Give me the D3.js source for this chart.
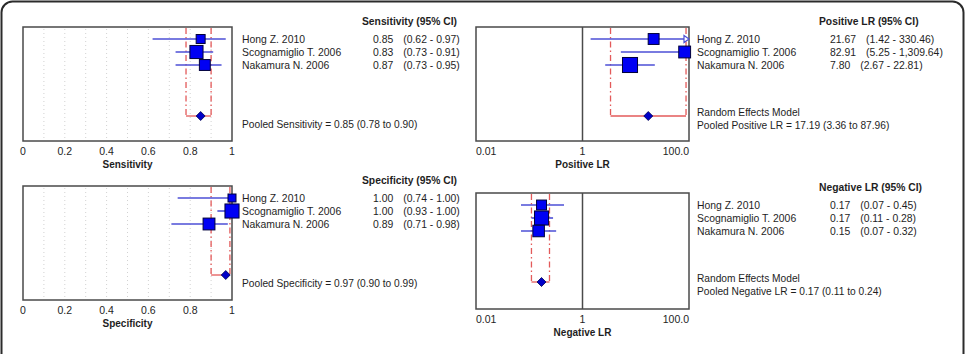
<!DOCTYPE html>
<html><head><meta charset="utf-8">
<script src="https://cdn.jsdelivr.net/npm/d3@7"></script>
<style>
html,body{margin:0;padding:0;background:#fff;}
svg{display:block;font-family:"Liberation Sans",Arial,sans-serif;}
</style></head>
<body><svg id="c" width="967" height="354"></svg>
<script>
// ---------- data ----------
const studies = ["Hong Z. 2010", "Scognamiglio T. 2006", "Nakamura N. 2006"];

const sensEst = [0.85, 0.83, 0.87];
const sensLo  = [0.62, 0.73, 0.73];
const sensHi  = [0.97, 0.91, 0.95];
const sensWeight = [28, 41, 34];
const sensPooled = [0.85, 0.78, 0.90];

const specEst = [1.00, 1.00, 0.89];
const specLo  = [0.74, 0.93, 0.71];
const specHi  = [1.00, 1.00, 0.98];
const specWeight = [25, 44, 37];
const specPooled = [0.97, 0.90, 0.99];

const plrEst = [21.67, 82.91, 7.80];
const plrLo  = [1.42, 5.25, 2.67];
const plrHi  = [330.46, 1309.64, 22.81];
const plrWeight = [34, 37, 47];
const plrPooled = [17.19, 3.36, 87.96];

const nlrEst = [0.17, 0.17, 0.15];
const nlrLo  = [0.07, 0.11, 0.07];
const nlrHi  = [0.45, 0.28, 0.32];
const nlrWeight = [31, 44, 36];
const nlrPooled = [0.17, 0.11, 0.24];

const propTicks = [0, 0.2, 0.4, 0.6, 0.8, 1];
const propTickLabels = ["0", "0.2", "0.4", "0.6", "0.8", "1"];
const lrTicks = [0.01, 1, 100];
const lrTickLabels = ["0.01", "1", "100.0"];

const estLabels = {
  sens: ["0.85", "0.83", "0.87"], sensCI: ["(0.62 - 0.97)", "(0.73 - 0.91)", "(0.73 - 0.95)"],
  spec: ["1.00", "1.00", "0.89"], specCI: ["(0.74 - 1.00)", "(0.93 - 1.00)", "(0.71 - 0.98)"],
  plr: ["21.67", "82.91", "7.80"], plrCI: ["(1.42 - 330.46)", "(5.25 - 1,309.64)", "(2.67 - 22.81)"],
  nlr: ["0.17", "0.17", "0.15"], nlrCI: ["(0.07 - 0.45)", "(0.11 - 0.28)", "(0.07 - 0.32)"]
};

// ---------- drawing ----------
const svg = d3.select("#c");
svg.append("rect").attr("x", 1.5).attr("y", 1.5).attr("width", 962).attr("height", 400)
  .attr("rx", 11).attr("fill", "none").attr("stroke", "#2b2b2b").attr("stroke-width", 2);

const sizeScale = d3.scaleLinear().domain([0, 50]).range([0, 16]);

const panels = [
  {x0: 23, x1: 232, y0: 27, y1: 141, log: false, est: sensEst, lo: sensLo, hi: sensHi, w: sensWeight, pooled: sensPooled,
   axisTitle: "Sensitivity", header: "Sensitivity (95% CI)", vals: estLabels.sens, cis: estLabels.sensCI,
   pooledText: ["Pooled Sensitivity = 0.85 (0.78 to 0.90)"]},
  {x0: 476, x1: 689, y0: 27, y1: 141, log: true, est: plrEst, lo: plrLo, hi: plrHi, w: plrWeight, pooled: plrPooled,
   axisTitle: "Positive LR", header: "Positive LR (95% CI)", vals: estLabels.plr, cis: estLabels.plrCI,
   pooledText: ["Random Effects Model", "Pooled Positive LR = 17.19 (3.36 to 87.96)"]},
  {x0: 23, x1: 232, y0: 186, y1: 300, log: false, est: specEst, lo: specLo, hi: specHi, w: specWeight, pooled: specPooled,
   axisTitle: "Specificity", header: "Specificity (95% CI)", vals: estLabels.spec, cis: estLabels.specCI,
   pooledText: ["Pooled Specificity = 0.97 (0.90 to 0.99)"]},
  {x0: 476, x1: 689, y0: 193, y1: 309, log: true, est: nlrEst, lo: nlrLo, hi: nlrHi, w: nlrWeight, pooled: nlrPooled,
   axisTitle: "Negative LR", header: "Negative LR (95% CI)", vals: estLabels.nlr, cis: estLabels.nlrCI,
   pooledText: ["Random Effects Model", "Pooled Negative LR = 0.17 (0.11 to 0.24)"]}
];

const TXT = "#1e1e1e";

panels.forEach(p => {
  const g = svg.append("g");
  const x = p.log
    ? d3.scaleLog().domain([0.01, 100]).range([p.x0, p.x1])
    : d3.scaleLinear().domain([0, 1]).range([p.x0, p.x1]);
  const xc = v => x(Math.max(x.domain()[0], Math.min(x.domain()[1], v)));
  const y = d3.scalePoint().domain(d3.range(3)).range([p.y0 + 12, p.y0 + 38]);
  const yPool = p.y0 + 89;

  // grid
  if (!p.log) {
    g.selectAll("line.grid").data(d3.range(1, 10).map(d => d / 10)).join("line")
      .attr("x1", d => x(d)).attr("x2", d => x(d)).attr("y1", p.y0 + 2).attr("y2", p.y1 - 2)
      .attr("stroke", "#d2d2d2").attr("stroke-width", 1).attr("stroke-dasharray", "1,3");
  } else {
    g.append("line").attr("x1", x(1)).attr("x2", x(1)).attr("y1", p.y0).attr("y2", p.y1)
      .attr("stroke", "#4a4a4a").attr("stroke-width", 1.5);
  }

  // frame
  g.append("rect").attr("x", p.x0).attr("y", p.y0).attr("width", p.x1 - p.x0).attr("height", p.y1 - p.y0)
    .attr("fill", "none").attr("stroke", "#4a4a4a").attr("stroke-width", 1.5);

  // pooled CI red lines
  const red = "#e35a5a";
  [p.pooled[1], p.pooled[2]].forEach(v => {
    g.append("line").attr("x1", x(v)).attr("x2", x(v)).attr("y1", p.y0 + 1).attr("y2", yPool)
      .attr("stroke", red).attr("stroke-width", 1.3).attr("stroke-dasharray", "6,3,1.5,3");
  });
  g.append("line").attr("x1", x(p.pooled[1])).attr("x2", x(p.pooled[2])).attr("y1", yPool).attr("y2", yPool)
    .attr("stroke", red).attr("stroke-width", 1.3);

  // CI lines
  const blueLine = "#4d4fd6";
  g.selectAll("line.ci").data(d3.range(3)).join("line")
    .attr("x1", i => xc(p.lo[i])).attr("x2", i => xc(p.hi[i]))
    .attr("y1", i => y(i)).attr("y2", i => y(i))
    .attr("stroke", blueLine).attr("stroke-width", 1.6);
  // truncation arrows
  d3.range(3).filter(i => p.hi[i] > x.domain()[1]).forEach(i => {
    const ax = x(x.domain()[1]), ay = y(i);
    g.append("path").attr("d", `M${ax - 5},${ay - 3.5}L${ax},${ay}L${ax - 5},${ay + 3.5}Z`)
      .attr("fill", "#fff").attr("stroke", blueLine).attr("stroke-width", 1.2);
  });
  // squares
  g.selectAll("rect.sq").data(d3.range(3)).join("rect")
    .attr("x", i => x(p.est[i]) - sizeScale(p.w[i]) / 2)
    .attr("y", i => y(i) - sizeScale(p.w[i]) / 2)
    .attr("width", i => sizeScale(p.w[i])).attr("height", i => sizeScale(p.w[i]))
    .attr("fill", "#0000f4").attr("stroke", "#00003a").attr("stroke-width", 1);
  // diamond
  const dx = x(p.pooled[0]);
  g.append("path").attr("d", `M${dx - 4.5},${yPool}L${dx},${yPool - 4.5}L${dx + 4.5},${yPool}L${dx},${yPool + 4.5}Z`)
    .attr("fill", "#0000c8").attr("stroke", "#000050").attr("stroke-width", 0.8);

  // tick labels
  const ticks = p.log ? lrTicks : propTicks;
  const tickLabels = p.log ? lrTickLabels : propTickLabels;
  g.selectAll("text.tick").data(ticks).join("text")
    .attr("x", d => x(d)).attr("y", p.y1 + 14)
    .attr("text-anchor", (d, i) => p.log ? (i === 0 ? "start" : i === ticks.length - 1 ? "end" : "middle") : "middle")
    .attr("font-size", 10.5).attr("fill", TXT)
    .text((d, i) => tickLabels[i]);
  g.append("text").attr("x", (p.x0 + p.x1) / 2).attr("y", p.y1 + 27).attr("text-anchor", "middle")
    .attr("font-size", 10).attr("font-weight", "bold").attr("fill", TXT).text(p.axisTitle);

  // right-side text
  const tx = p.x1 + (p.log ? 8 : 10);
  const vx = p.x1 + 141;
  g.append("text").attr("x", p.x1 + 130).attr("y", p.y0 - 2.5).attr("font-size", 10.3).attr("font-weight", "bold")
    .attr("fill", TXT).text(p.header);
  d3.range(3).forEach(i => {
    g.append("text").attr("x", tx).attr("y", y(i) + 3.7).attr("font-size", 10.4).attr("fill", TXT).text(studies[i]);
    const t = g.append("text").attr("x", vx).attr("y", y(i) + 3.7).attr("font-size", 10.4).attr("fill", TXT);
    t.append("tspan").text(p.vals[i]);
    t.append("tspan").attr("dx", 10).text(p.cis[i]);
  });
  const pl = p.pooledText;
  pl.forEach((s, k) => {
    const yy = pl.length === 1 ? p.y0 + 97 : p.y0 + 85 + k * 13;
    g.append("text").attr("x", tx).attr("y", yy + 3.7).attr("font-size", 10.2).attr("fill", TXT).text(s);
  });
});
</script>
</body></html>
